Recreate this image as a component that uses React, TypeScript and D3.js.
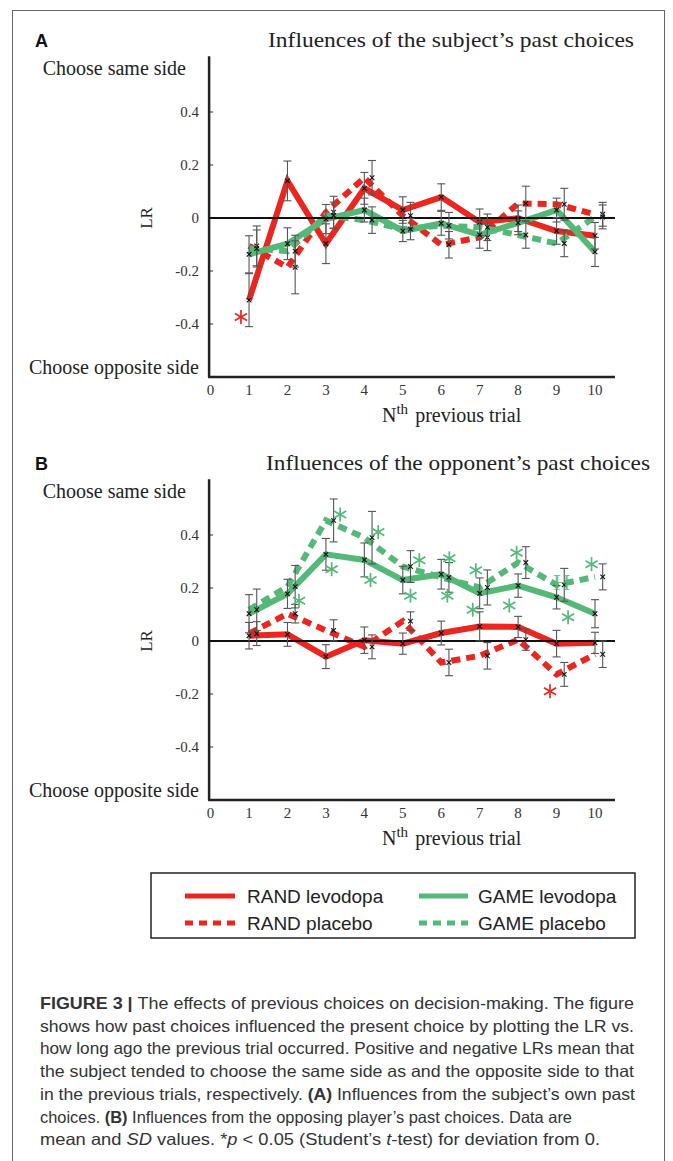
import React from "react";
import * as d3 from "d3";

// ---------- DATA ----------
const TRIALS = [1, 2, 3, 4, 5, 6, 7, 8, 9, 10];
const X_TICKS = [0, 1, 2, 3, 4, 5, 6, 7, 8, 9, 10];
const Y_TICKS = [0.4, 0.2, 0, -0.2, -0.4];
const Y_TICK_LABELS = ["0.4", "0.2", "0", "-0.2", "-0.4"];

// Panel A: subject's past choices
const A_RAND_LEV = [-0.31, 0.14, -0.097, 0.112, 0.03, 0.079, -0.016, -0.001, -0.049, -0.067];
const A_RAND_LEV_SD = [0.1, 0.075, 0.075, 0.06, 0.05, 0.05, 0.05, 0.05, 0.05, 0.05];
const A_RAND_PLA = [-0.105, -0.186, 0.022, 0.152, 0.009, -0.101, -0.073, 0.055, 0.052, 0.014];
const A_RAND_PLA_SD = [0.075, 0.1, 0.06, 0.065, 0.05, 0.05, 0.05, 0.065, 0.06, 0.045];
const A_GAME_LEV = [-0.137, -0.097, -0.004, 0.03, -0.049, -0.02, -0.064, -0.018, 0.03, -0.128];
const A_GAME_LEV_SD = [0.07, 0.06, 0.055, 0.045, 0.04, 0.045, 0.05, 0.045, 0.045, 0.055];
const A_GAME_PLA = [-0.115, -0.125, 0.01, -0.008, -0.042, -0.029, -0.035, -0.064, -0.096, 0.004];
const A_GAME_PLA_SD = [0.07, 0.06, 0.05, 0.05, 0.04, 0.05, 0.05, 0.05, 0.05, 0.045];
const A_RED_STARS = [[0.79, -0.374]];
const A_GREEN_STARS: number[][] = [];

// Panel B: opponent's past choices
const B_RAND_LEV = [0.02, 0.025, -0.059, 0.003, -0.01, 0.03, 0.055, 0.053, -0.01, -0.007];
const B_RAND_LEV_SD = [0.05, 0.045, 0.045, 0.05, 0.04, 0.045, 0.055, 0.04, 0.05, 0.04];
const B_RAND_PLA = [0.028, 0.103, 0.04, -0.022, 0.075, -0.081, -0.056, 0.005, -0.126, -0.05];
const B_RAND_PLA_SD = [0.045, 0.035, 0.04, 0.045, 0.035, 0.05, 0.05, 0.04, 0.045, 0.05];
const B_GAME_LEV = [0.103, 0.178, 0.327, 0.306, 0.23, 0.252, 0.18, 0.209, 0.165, 0.103];
const B_GAME_LEV_SD = [0.072, 0.055, 0.06, 0.064, 0.052, 0.056, 0.058, 0.044, 0.044, 0.053];
const B_GAME_PLA = [0.118, 0.205, 0.455, 0.39, 0.281, 0.24, 0.202, 0.296, 0.212, 0.242];
const B_GAME_PLA_SD = [0.078, 0.08, 0.081, 0.099, 0.06, 0.056, 0.066, 0.06, 0.062, 0.049];
const B_RED_STARS = [[8.83, -0.19]];
const B_GREEN_STARS = [
  [3.37, 0.477], [3.15, 0.271], [2.3, 0.152], [4.36, 0.411], [4.16, 0.23],
  [5.43, 0.305], [5.2, 0.171], [6.21, 0.312], [6.16, 0.171], [6.9, 0.267],
  [6.82, 0.118], [7.96, 0.333], [7.77, 0.134], [9.3, 0.09], [9.91, 0.29],
];

const CAPTION_LINES = [
  ["FIGURE 3 | ", "The effects of previous choices on decision-making. The figure"],
  ["", "shows how past choices influenced the present choice by plotting the LR vs."],
  ["", "how long ago the previous trial occurred. Positive and negative LRs mean that"],
  ["", "the subject tended to choose the same side as and the opposite side to that"],
];

const RED = "#ea2620";
const GREEN = "#55b878";
const SERIF = "'Liberation Serif', 'Times New Roman', serif";
const SANS = "'Liberation Sans', Arial, sans-serif";

type PanelProps = {
  oy: number;
  letter: string;
  title: string;
  titleLen: number;
  randLev: number[]; randLevSd: number[];
  randPla: number[]; randPlaSd: number[];
  gameLev: number[]; gameLevSd: number[];
  gamePla: number[]; gamePlaSd: number[];
  redStars: number[][]; greenStars: number[][];
};

function Star({ cx, cy, color }: { cx: number; cy: number; color: string }) {
  const r = 7;
  const angs = [90, 30, 150];
  return (
    <g stroke={color} strokeWidth={1.7}>
      {angs.map((a) => {
        const dx = r * Math.cos((a * Math.PI) / 180);
        const dy = r * Math.sin((a * Math.PI) / 180);
        return <line key={a} x1={cx - dx} y1={cy - dy} x2={cx + dx} y2={cy + dy} />;
      })}
    </g>
  );
}

function Panel(p: PanelProps) {
  const x = d3.scaleLinear().domain([0, 10]).range([210.6, 595]);
  const y = d3.scaleLinear().domain([-0.6, 0.6]).range([p.oy + 377, p.oy + 59]);
  const line = d3
    .line<number>()
    .x((_, i) => x(TRIALS[i]))
    .y((d) => y(d));
  const axisX = x(0) - 1.5;
  const xEnd = x(10.52);

  const errBars = (vals: number[], sds: number[], off: number, key: string) =>
    vals.map((v, i) => {
      const cx = x(TRIALS[i] + off);
      const y1 = y(v - sds[i]);
      const y2 = y(v + sds[i]);
      const cy = y(v);
      return (
        <g key={key + i}>
          <g stroke="#555" strokeWidth={1.1}>
            <line x1={cx} x2={cx} y1={y1} y2={y2} />
            <line x1={cx - 4} x2={cx + 4} y1={y1} y2={y1} />
            <line x1={cx - 4} x2={cx + 4} y1={y2} y2={y2} />
          </g>
          <g stroke="#111" strokeWidth={1.1}>
            <line x1={cx - 2.3} x2={cx + 2.3} y1={cy - 2.3} y2={cy + 2.3} />
            <line x1={cx - 2.3} x2={cx + 2.3} y1={cy + 2.3} y2={cy - 2.3} />
          </g>
        </g>
      );
    });

  return (
    <g>
      <text x={35} y={p.oy + 47} fontFamily={SANS} fontWeight="bold" fontSize={18} fill="#111">
        {p.letter}
      </text>
      <text x={p.oy > 100 ? 266 : 268} y={p.oy + 47} fontFamily={SERIF} fontSize={22} fill="#222"
        textLength={p.titleLen} lengthAdjust="spacingAndGlyphs">
        {p.title}
      </text>
      <text x={186} y={p.oy + 75} textAnchor="end" fontFamily={SERIF} fontSize={20} fill="#222">
        Choose same side
      </text>
      <text x={199} y={p.oy + 374} textAnchor="end" fontFamily={SERIF} fontSize={20} fill="#222">
        Choose opposite side
      </text>
      {Y_TICKS.map((t, i) => (
        <g key={"yt" + i}>
          {t !== 0 && (
            <line x1={axisX} x2={axisX + 4} y1={y(t)} y2={y(t)} stroke="#333" strokeWidth={1} />
          )}
          <text x={199} y={y(t) + 5} textAnchor="end" fontFamily={SERIF} fontSize={15} fill="#333">
            {Y_TICK_LABELS[i]}
          </text>
        </g>
      ))}
      <text transform={`translate(152, ${y(0)}) rotate(-90)`} textAnchor="middle"
        fontFamily={SERIF} fontSize={17} fill="#222">
        LR
      </text>
      {X_TICKS.map((t) => (
        <text key={"xt" + t} x={x(t)} y={p.oy + 395} textAnchor="middle" fontFamily={SERIF}
          fontSize={15} fill="#333">
          {t}
        </text>
      ))}
      <text x={382} y={p.oy + 422} fontFamily={SERIF} fontSize={20} fill="#222">
        N
        <tspan dy={-8} fontSize={15}>th</tspan>
        <tspan dy={8} dx={7}>previous trial</tspan>
      </text>

      {/* lines */}
      <path d={line(p.randPla) || ""} fill="none" stroke={RED} strokeWidth={6} strokeDasharray="9,6" />
      <path d={line(p.randLev) || ""} fill="none" stroke={RED} strokeWidth={6} />
      <path d={line(p.gamePla) || ""} fill="none" stroke={GREEN} strokeWidth={6} strokeDasharray="9,6" />
      <path d={line(p.gameLev) || ""} fill="none" stroke={GREEN} strokeWidth={6} />

      {/* axes */}
      <line x1={axisX} x2={axisX} y1={y(0.61)} y2={y(-0.6)} stroke="#222" strokeWidth={2.5} />
      <line x1={axisX - 1} x2={xEnd} y1={y(-0.6)} y2={y(-0.6)} stroke="#222" strokeWidth={2.5} />
      <line x1={axisX} x2={xEnd} y1={y(0)} y2={y(0)} stroke="#111" strokeWidth={2} />

      {errBars(p.randLev, p.randLevSd, 0, "rl")}
      {errBars(p.gameLev, p.gameLevSd, 0, "gl")}
      {errBars(p.randPla, p.randPlaSd, 0.2, "rp")}
      {errBars(p.gamePla, p.gamePlaSd, 0.2, "gp")}

      {p.redStars.map((s, i) => (
        <Star key={"rs" + i} cx={x(s[0])} cy={y(s[1])} color={RED} />
      ))}
      {p.greenStars.map((s, i) => (
        <Star key={"gs" + i} cx={x(s[0])} cy={y(s[1])} color={GREEN} />
      ))}
    </g>
  );
}

export default function App() {
  const capY0 = 1009;
  const capStep = 22.7;
  return (
    <svg width={673} height={1161} style={{ position: "absolute", left: 0, top: 0, background: "#fff" }}>
      <rect x={0} y={0} width={673} height={1161} fill="#fff" />
      <rect x={12.5} y={10.5} width={652} height={1200} fill="none" stroke="#666" strokeWidth={1} />
      <Panel oy={0} letter="A" title="Influences of the subject’s past choices" titleLen={366}
        randLev={A_RAND_LEV} randLevSd={A_RAND_LEV_SD} randPla={A_RAND_PLA} randPlaSd={A_RAND_PLA_SD}
        gameLev={A_GAME_LEV} gameLevSd={A_GAME_LEV_SD} gamePla={A_GAME_PLA} gamePlaSd={A_GAME_PLA_SD}
        redStars={A_RED_STARS} greenStars={A_GREEN_STARS} />
      <Panel oy={423} letter="B" title="Influences of the opponent’s past choices" titleLen={384}
        randLev={B_RAND_LEV} randLevSd={B_RAND_LEV_SD} randPla={B_RAND_PLA} randPlaSd={B_RAND_PLA_SD}
        gameLev={B_GAME_LEV} gameLevSd={B_GAME_LEV_SD} gamePla={B_GAME_PLA} gamePlaSd={B_GAME_PLA_SD}
        redStars={B_RED_STARS} greenStars={B_GREEN_STARS} />
      <text x={553} y={590} fontFamily={SERIF} fontSize={24} fill={GREEN} opacity={0.85}>H</text>

      {/* legend */}
      <rect x={151} y={873} width={484} height={65} fill="#fff" stroke="#222" strokeWidth={1.5} />
      <line x1={185} x2={235} y1={896} y2={896} stroke={RED} strokeWidth={5} />
      <line x1={185} x2={235} y1={923} y2={923} stroke={RED} strokeWidth={5} strokeDasharray="8,6" />
      <line x1={419} x2={468} y1={896} y2={896} stroke={GREEN} strokeWidth={5} />
      <line x1={419} x2={468} y1={923} y2={923} stroke={GREEN} strokeWidth={5} strokeDasharray="8,6" />
      <g fontFamily={SANS} fontSize={19} fill="#222">
        <text x={247} y={903}>RAND levodopa</text>
        <text x={247} y={930}>RAND placebo</text>
        <text x={478} y={903}>GAME levodopa</text>
        <text x={478} y={930}>GAME placebo</text>
      </g>

      {/* caption */}
      <g fontFamily={SANS} fontSize={16.5} fill="#333">
        {CAPTION_LINES.map((l, i) => (
          <text key={"c" + i} x={40} y={capY0 + i * capStep} textLength={594} lengthAdjust="spacingAndGlyphs">
            {l[0] && <tspan fontWeight="bold">{l[0]}</tspan>}
            {l[1]}
          </text>
        ))}
        <text x={40} y={capY0 + 4 * capStep} textLength={595} lengthAdjust="spacingAndGlyphs">
          in the previous trials, respectively. <tspan fontWeight="bold">(A)</tspan> Influences from the subject’s own past
        </text>
        <text x={40} y={capY0 + 5 * capStep} textLength={532} lengthAdjust="spacingAndGlyphs">
          choices. <tspan fontWeight="bold">(B)</tspan> Influences from the opposing player’s past choices. Data are
        </text>
        <text x={40} y={capY0 + 6 * capStep} textLength={560} lengthAdjust="spacingAndGlyphs">
          mean and <tspan fontStyle="italic">SD</tspan> values. *<tspan fontStyle="italic">p</tspan> {"<"} 0.05 (Student’s <tspan fontStyle="italic">t</tspan>-test) for deviation from 0.
        </text>
      </g>
    </svg>
  );
}
